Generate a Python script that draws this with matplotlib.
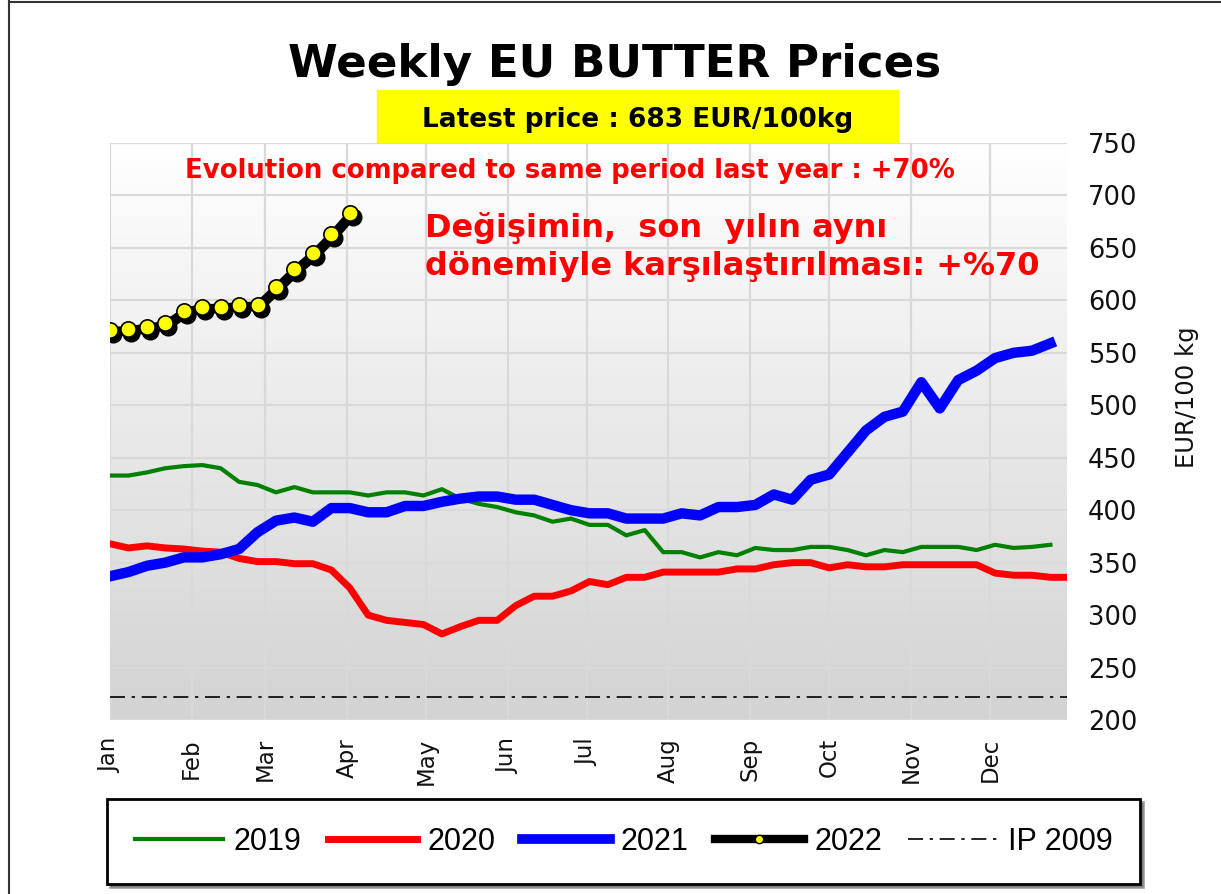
import numpy as np
import matplotlib.pyplot as plt
import matplotlib.transforms as mtransforms
from matplotlib.colors import LinearSegmentedColormap
from matplotlib.lines import Line2D
from matplotlib.patches import Rectangle

# weekly prices EUR/100kg
months = ['Jan', 'Feb', 'Mar', 'Apr', 'May', 'Jun', 'Jul', 'Aug', 'Sep', 'Oct', 'Nov', 'Dec']
month_days = [31, 28, 31, 30, 31, 30, 31, 31, 30, 31, 30, 31]

p2019 = [433, 433, 436, 440, 442, 443, 440, 427, 424, 417, 422, 417, 417, 417,
         414, 417, 417, 414, 420, 411, 406, 403, 398, 395, 389, 392, 386, 386,
         376, 381, 360, 360, 355, 360, 357, 364, 362, 362, 365, 365, 362, 357,
         362, 360, 365, 365, 365, 362, 367, 364, 365, 367]
p2020 = [368, 364, 366, 364, 363, 361, 360, 354, 351, 351, 349, 349, 343, 326,
         300, 295, 293, 291, 282, 289, 295, 295, 309, 318, 318, 323, 332, 329,
         336, 336, 341, 341, 341, 341, 344, 344, 348, 350, 350, 345, 348, 346,
         346, 348, 348, 348, 348, 348, 340, 338, 338, 336, 336]
p2021 = [337, 341, 347, 350, 355, 355, 358, 363, 379, 390, 393, 389, 402, 402,
         398, 398, 404, 404, 408, 411, 413, 413, 410, 410, 405, 400, 397, 397,
         392, 392, 392, 397, 395, 403, 403, 405, 415, 410, 429, 434, 455, 476,
         489, 494, 522, 497, 524, 533, 545, 550, 552, 559]
p2022 = [572, 573, 575, 578, 590, 594, 594, 596, 596, 613, 630, 645, 663, 683]
ip2009 = 221.75

W, H = 1221, 894
fig = plt.figure(figsize=(W / 100, H / 100), dpi=100)
ax = fig.add_axes([110 / W, 1 - 720 / H, 957 / W, 577 / H])

xmin, xmax = 1, 52.9
ymin, ymax = 200, 750

# gradient background of the plot area
cmap = LinearSegmentedColormap.from_list('bg', ['#d3d3d3', '#ffffff'])
ax.imshow(np.linspace(1, 0, 256).reshape(-1, 1), cmap=cmap, aspect='auto',
          extent=[xmin, xmax, ymin, ymax], zorder=0)

month_pos = 1 + np.concatenate([[0], np.cumsum(month_days)[:-1]]) / 7
ax.set_xticks(month_pos)
ax.set_xticklabels(months, rotation=90, fontsize=16.5, va='top')
ax.set_yticks(np.arange(200, 751, 50))
ax.set_xlim(xmin, xmax)
ax.set_ylim(ymin, ymax)
ax.set_axisbelow(True)
ax.grid(True, color='#d9d9d9', lw=1.6)
for s in ax.spines.values():
    s.set_visible(False)
ax.yaxis.tick_right()
ax.yaxis.set_label_position('right')
ax.tick_params(axis='y', length=0, pad=15, labelsize=18.5, labelcolor='#111111')
ax.tick_params(axis='x', length=0, pad=13, labelcolor='#111111')
ax.set_ylabel('EUR/100 kg', fontsize=17.5, color='#111111')
ax.yaxis.set_label_coords(1.113, 0.56)

ax.axhline(ip2009, color='black', lw=1.2, dashes=(9, 4, 2, 4), zorder=2)
ax.plot(range(1, len(p2019) + 1), p2019, color='#008000', lw=3, zorder=3)
ax.plot(range(1, len(p2020) + 1), p2020, color='#ff0000', lw=5, zorder=4)
ax.plot(range(1, len(p2021) + 1), p2021, color='#0000ff', lw=7.5, zorder=5)

w22 = range(1, len(p2022) + 1)
shadow = mtransforms.offset_copy(ax.transData, fig=fig, x=3, y=-4, units='dots')
ax.plot(w22, p2022, color='black', lw=4, marker='o', ms=12, mfc='black',
        mec='black', transform=shadow, zorder=6)
ax.plot(w22, p2022, color='black', lw=4, marker='o', ms=11, mfc='#ffff00',
        mec='black', mew=1.2, zorder=7)

# titles
fig.text(615 / W, 1 - 64 / H, 'Weekly EU BUTTER Prices', fontsize=32.5,
         fontweight='bold', ha='center', va='center')
fig.add_artist(Rectangle((377 / W, 1 - 142 / H), 521 / W, 52 / H,
                         transform=fig.transFigure, color='#ffff00', zorder=1))
fig.text(638 / W, 1 - 120 / H, 'Latest price : 683 EUR/100kg', fontsize=19,
         fontweight='bold', ha='center', va='center', zorder=2)
fig.text(570 / W, 1 - 171 / H, 'Evolution compared to same period last year : +70%',
         fontsize=18.7, fontweight='bold', color='#ff0000', ha='center', va='center')
fig.text(425 / W, 1 - 228 / H, 'Değişimin,  son  yılın aynı', fontsize=23,
         fontweight='bold', color='#ff0000', ha='left', va='center')
fig.text(425 / W, 1 - 266 / H, 'dönemiyle karşılaştırılması: +%70', fontsize=23,
         fontweight='bold', color='#ff0000', ha='left', va='center')

# legend
handles = [
    Line2D([], [], color='#008000', lw=3),
    Line2D([], [], color='#ff0000', lw=5),
    Line2D([], [], color='#0000ff', lw=7),
    Line2D([], [], color='black', lw=6, marker='o', ms=6, mfc='#ffff00', mec='black'),
    Line2D([], [], color='black', lw=1.2, dashes=(9, 4, 2, 4)),
]
labels = ['2019', '2020', '2021', '2022', 'IP 2009']
leg = fig.legend(handles, labels, loc='center', ncol=5, mode='expand',
                 bbox_to_anchor=(107 / W, 1 - 878 / H, 1033 / W, 73 / H),
                 fancybox=False, shadow=True, edgecolor='black',
                 handlelength=2.9, handletextpad=0.35, columnspacing=1.6,
                 borderaxespad=0, borderpad=0.9,
                 prop={'family': 'Liberation Sans', 'size': 22})
leg.get_frame().set_linewidth(2)

# outer frame
fig.add_artist(Line2D([9 / W, 9 / W], [0, 1], transform=fig.transFigure,
                      color='#333333', lw=1.5))
fig.add_artist(Line2D([9 / W, 1], [1 - 1.5 / H, 1 - 1.5 / H], transform=fig.transFigure,
                      color='#333333', lw=1.5))

fig.savefig('out.png', dpi=100)
